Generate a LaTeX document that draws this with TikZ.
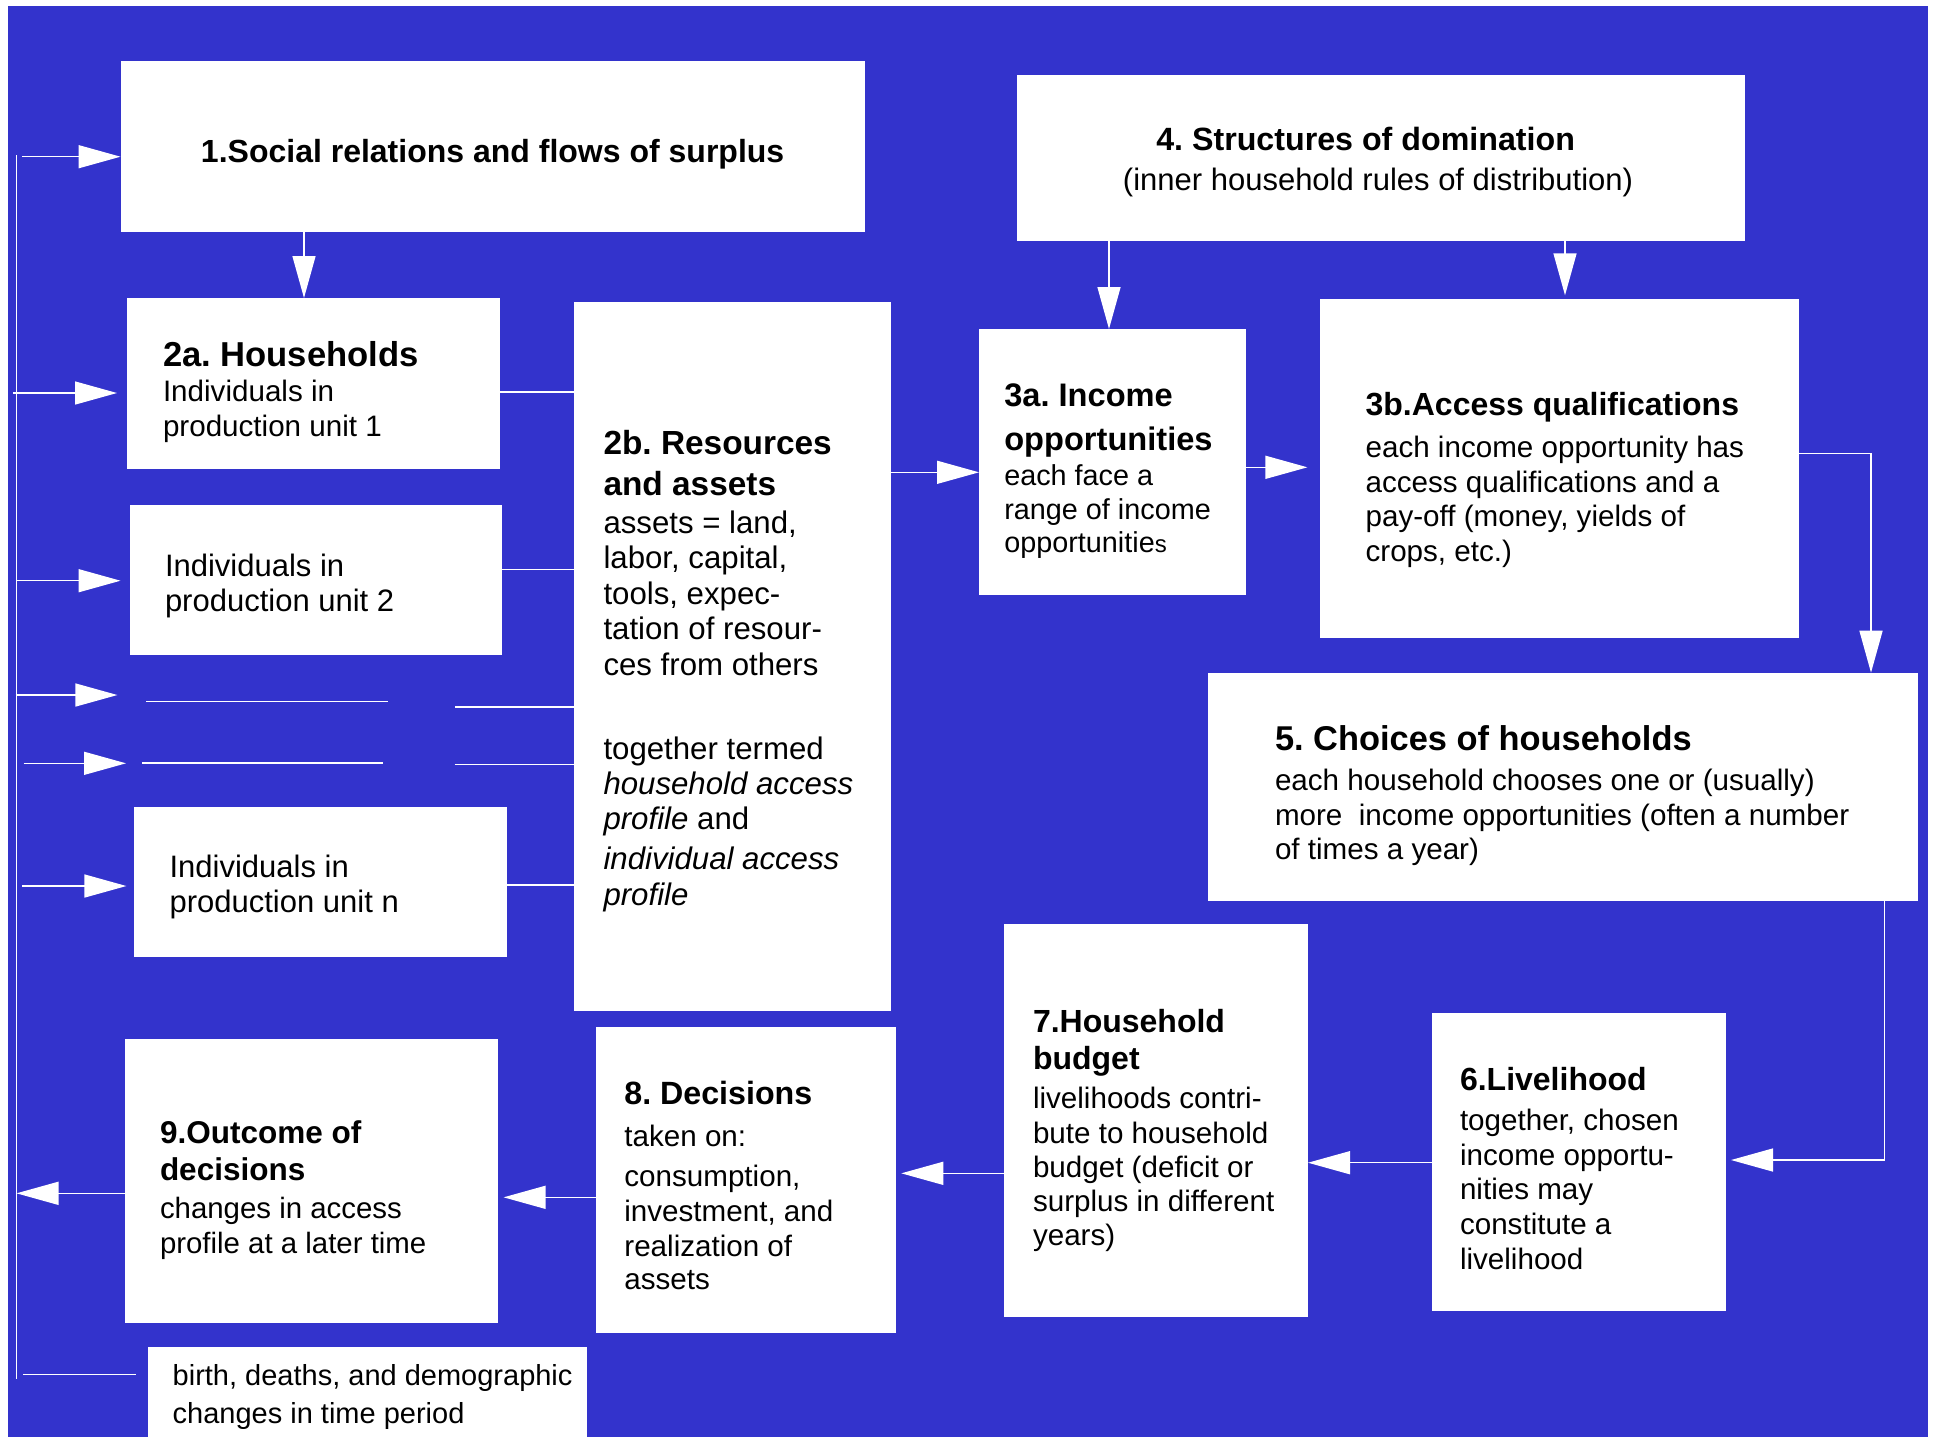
\documentclass[tikz,border=0pt]{standalone}
\usepackage{fontspec}
\setmainfont{Liberation Sans}
\usetikzlibrary{arrows.meta,calc,fit}
\definecolor{bgblue}{RGB}{51,51,204}
\newcommand\boxtitle[2]{{\fontsize{#1}{#1}\selectfont\bfseries #2}}
\newcommand\fstrut{\rule{0pt}{15pt}}
\frenchspacing
\begin{document}
\begin{tikzpicture}[x=0.5pt,y=-0.5pt,
  box/.style={fill=white, draw=none, inner sep=0pt, outer sep=0pt},
  txt/.style={anchor=north west, inner sep=0pt, outer sep=0pt, align=left, font=\fontsize{14.8}{17.5}\selectfont},
  wire/.style={draw=white, line width=0.7pt},
  arr/.style={wire, -{Triangle[length=21pt,width=11.5pt]}},
]
\useasboundingbox (0,0) rectangle (1937,1437);
\fill[white] (0,0) rectangle (1937,1437);
\fill[bgblue] (7.5,5.5) rectangle (1928,1437);

% boxes
\node[box, fit={(120.5,61.3) (864.7,231.7)}] (b1) {};
\node[box, fit={(1016.6,75.3) (1744.6,240.7)}] (b4) {};
\node[box, fit={(127,298) (500,469)}] (b2a) {};
\node[box, fit={(129.5,504.7) (502,655.3)}] (bu2) {};
\node[box, fit={(134,806.7) (506.7,957.3)}] (bun) {};
\node[box, fit={(573.5,301.7) (891,1011)}] (b2b) {};
\node[box, fit={(979,329) (1246,595)}] (b3a) {};
\node[box, fit={(1320,299.3) (1798.6,638.3)}] (b3b) {};
\node[box, fit={(1208,672.7) (1918,901)}] (b5) {};
\node[box, fit={(1004,924.3) (1308,1316.7)}] (b7) {};
\node[box, fit={(1432,1013.3) (1725.6,1311)}] (b6) {};
\node[box, fit={(596,1027) (896.3,1332.7)}] (b8) {};
\node[box, fit={(125,1038.7) (497.8,1322.7)}] (b9) {};
\node[box, fit={(148,1346.7) (586.5,1437)}] (bb) {};

% feedback line on the left
\coordinate (fbtop) at (16.5,155);
\coordinate (fbbot) at (16.5,1379);
\draw[wire] (fbtop) -- (fbbot);

\coordinate (l1) at (22,156.7);
\draw[arr] (l1) -- (l1 -| b1.west);
\coordinate (l2) at (13,393);
\draw[arr, shorten >=5pt] (l2) -- (l2 -| b2a.west);
\coordinate (l3) at (16,580.7);
\draw[arr, shorten >=4.5pt] (l3) -- (l3 -| bu2.west);
\coordinate (l4) at (15.6,695);
\coordinate (l4e) at (117.4,695);
\draw[arr] (l4) -- (l4e);
\coordinate (l5) at (23.7,763.3);
\coordinate (l5e) at (126,763.3);
\draw[arr] (l5) -- (l5e);
\coordinate (l6) at (22,886);
\draw[arr, shorten >=3.8pt] (l6) -- (l6 -| bun.west);
\coordinate (l7) at (23,1374.3);
\draw[wire, shorten >=5.8pt] (l7) -- (l7 -| bb.west);

% dotted rows (free lines)
\coordinate (d1a) at (146,701.7); \coordinate (d1b) at (387.5,701.7);
\draw[wire] (d1a) -- (d1b);
\coordinate (d2a) at (142,763); \coordinate (d2b) at (383,763);
\draw[wire] (d2a) -- (d2b);
\coordinate (d3) at (455,707);
\draw[wire] (d3) -- (d3 -| b2b.west);
\coordinate (d4) at (454.5,764.7);
\draw[wire] (d4) -- (d4 -| b2b.west);

% box to 2b lines
\coordinate (e2a) at ($(b2a.north east)+(0,94)$);
\draw[wire] (e2a) -- (e2a -| b2b.west);
\coordinate (eu2) at ($(bu2.north east)+(0,64.6)$);
\draw[wire] (eu2) -- (eu2 -| b2b.west);
\coordinate (eun) at ($(bun.north east)+(0,78.3)$);
\draw[wire] (eun) -- (eun -| b2b.west);

% main connectors
\coordinate (c1) at ($(b1.south west)+(183.5,0)$);
\draw[arr] (c1) -- (c1 |- b2a.north);
\coordinate (c2) at ($(b4.south west)+(92.4,0)$);
\draw[arr] (c2) -- (c2 |- b3a.north);
\coordinate (c3) at ($(b4.south west)+(548.4,0)$);
\draw[arr, shorten >=2pt] (c3) -- (c3 |- b3b.north);
\coordinate (c4) at ($(b2b.north east)+(0,170.6)$);
\draw[arr] (c4) -- (c4 -| b3a.west);
\coordinate (c5) at ($(b3a.north east)+(0,138.3)$);
\draw[arr, shorten >=6.3pt] (c5) -- (c5 -| b3b.west);
\coordinate (c6) at ($(b3b.north east)+(0,154.3)$);
\coordinate (c6b) at ($(b5.north west)+(663,0)$);
\draw[arr] (c6) -| (c6b);
\coordinate (c7) at ($(b5.south west)+(676.4,0)$);
\coordinate (c7b) at ($(b6.north east)+(0,146.7)$);
\draw[arr, shorten >=2.7pt] (c7) |- (c7b);
\coordinate (c8) at ($(b6.north west)+(0,149.4)$);
\draw[arr] (c8) -- (c8 -| b7.east);
\coordinate (c9) at ($(b7.north west)+(0,249)$);
\draw[arr, shorten >=2.5pt] (c9) -- (c9 -| b8.east);
\coordinate (c10) at ($(b8.north west)+(0,170.3)$);
\draw[arr, shorten >=2.9pt] (c10) -- (c10 -| b9.east);
\coordinate (c11) at ($(b9.north west)+(0,154.6)$);
\draw[arr] (c11) -- (c11 -| fbtop);

% texts
\node[anchor=base, inner sep=0pt, font=\fontsize{16}{18}\selectfont\bfseries] (t1) at (492.6,162.7) {1.Social relations and flows of surplus};
\node[txt, anchor=north, align=center] (t4) at (1378,120) {\fstrut\boxtitle{16.1}{4. Structures of domination}\hspace*{12.4pt}\\[2.75pt] {\fontsize{15.5}{17.5}\selectfont (inner household rules of distribution)}};
\node[txt] (t2a) at (163,336) {\fstrut\boxtitle{17.3}{2a. Households}\\ Individuals in\\ production unit 1};
\node[txt, font=\fontsize{15.5}{17.5}\selectfont] (tu2) at (165,546) {\fstrut Individuals in\\ production unit 2};
\node[txt, font=\fontsize{15.5}{17.5}\selectfont] (tun) at (169.6,847.7) {\fstrut Individuals in\\ production unit n};
\node[txt, font=\fontsize{15.6}{17.8}\selectfont] (t2b) at (603.5,424.6) {\fstrut\boxtitle{16.7}{2b. Resources}\\[2.4pt] \boxtitle{16.7}{and assets}\\[1.2pt] assets = land,\\ labor, capital,\\ tools, expec-\\ tation of resour-\\ ces from others\\[24pt] together termed\\ \textit{household access}\\[-0.6pt] \textit{profile} and\\[2.4pt] \textit{individual access}\\ \textit{profile}};
\node[txt, font=\fontsize{14.4}{17.5}\selectfont] (t3a) at (1004.3,376.7) {\fstrut\boxtitle{16.3}{3a. Income}\\[4.5pt] \boxtitle{16.3}{opportunities}\\ each face a\\[-0.5pt] range of income\\[-1pt] opportunitie{\fontsize{12}{14}\selectfont s}};
\node[txt] (t3b) at (1365.6,385) {\fstrut\boxtitle{16}{3b.Access qualifications}\\[3.5pt] each income opportunity has\\ access qualifications and a\\[-0.5pt] pay-off (money, yields of\\ crops, etc.)};
\node[txt] (t5) at (1275,720) {\fstrut\boxtitle{17.2}{5. Choices of households}\\[2.9pt] each household chooses one or (usually)\\[-0.3pt] more\ \ income opportunities (often a number\\[-0.3pt] of times a year)};
\node[txt] (t6) at (1460,1060) {\fstrut\boxtitle{16}{6.Livelihood}\\[2.5pt] together, chosen\\ income opportu-\\[-0.5pt] nities may\\ constitute a\\ livelihood};
\node[txt] (t7) at (1033,1002.7) {\fstrut\boxtitle{16}{7.Household}\\[1pt] \boxtitle{16}{budget}\\[2pt] livelihoods contri-\\ bute to household\\[-0.5pt] budget (deficit or\\[-0.5pt] surplus in different\\[-0.5pt] years)};
\node[txt] (t8) at (624.4,1074) {\fstrut\boxtitle{16.1}{8. Decisions}\\[3.5pt] taken on:\\[2.5pt] consumption,\\ investment, and\\ realization of\\[-1pt] assets};
\node[txt, font=\fontsize{14.7}{17.5}\selectfont] (t9) at (160,1113) {\fstrut\boxtitle{15.75}{9.Outcome of}\\[1pt] \boxtitle{15.75}{decisions}\\[1.5pt] changes in access\\ profile at a later time};
\node[txt, font=\fontsize{14.5}{17.5}\selectfont] (tbb) at (172.7,1355) {\fstrut birth, deaths, and demographic\\[1.5pt] changes in time period};
\end{tikzpicture}
\end{document}
